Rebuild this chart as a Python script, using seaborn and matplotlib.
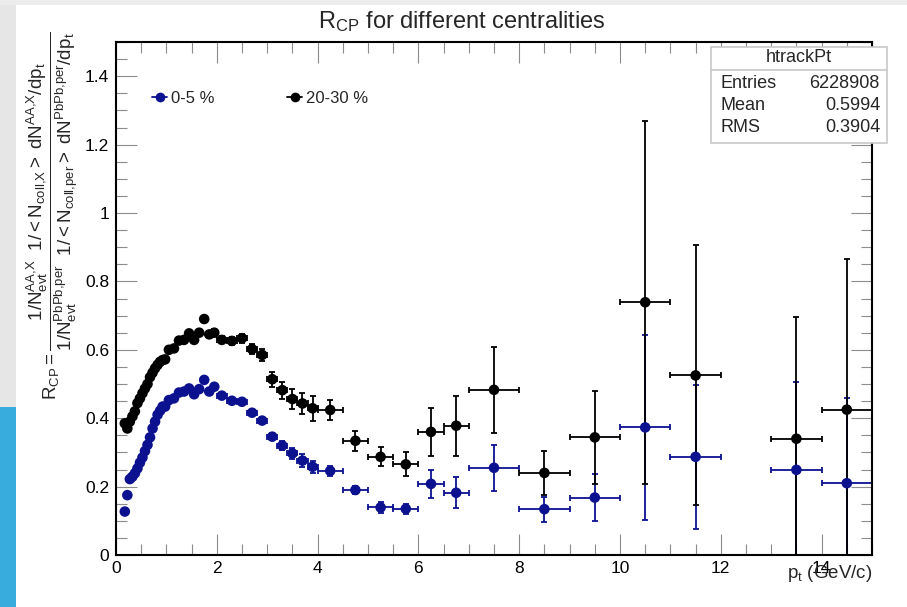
import numpy as np
import pandas as pd
import seaborn as sns
import matplotlib.pyplot as plt
from matplotlib.lines import Line2D
from matplotlib.patches import Rectangle
from matplotlib.ticker import MultipleLocator, FormatStrFormatter, FuncFormatter

# pt bin centres and half widths
pt = [0.175, 0.225, 0.275, 0.325, 0.375, 0.425, 0.475, 0.525, 0.575, 0.625, 0.675, 0.725,
      0.775, 0.825, 0.875, 0.925, 0.975,
      1.05, 1.15, 1.25, 1.35, 1.45, 1.55, 1.65, 1.75, 1.85, 1.95,
      2.1, 2.3, 2.5, 2.7, 2.9, 3.1, 3.3, 3.5, 3.7, 3.9,
      4.25, 4.75, 5.25, 5.75, 6.25, 6.75, 7.5, 8.5, 9.5, 10.5, 11.5, 13.5, 14.5]
pt_err = [0.025, 0.025, 0.025, 0.025, 0.025, 0.025, 0.025, 0.025, 0.025, 0.025, 0.025, 0.025,
          0.025, 0.025, 0.025, 0.025, 0.025,
          0.05, 0.05, 0.05, 0.05, 0.05, 0.05, 0.05, 0.05, 0.05, 0.05,
          0.1, 0.1, 0.1, 0.1, 0.1, 0.1, 0.1, 0.1, 0.1, 0.1,
          0.25, 0.25, 0.25, 0.25, 0.25, 0.25, 0.5, 0.5, 0.5, 0.5, 0.5, 0.5, 0.5]

# 0-5 %
rcp_central = [0.127, 0.175, 0.222, 0.229, 0.239, 0.253, 0.270, 0.285, 0.304, 0.322, 0.344, 0.370,
               0.390, 0.410, 0.422, 0.434, 0.434,
               0.453, 0.458, 0.475, 0.478, 0.487, 0.470, 0.485, 0.512, 0.478, 0.492,
               0.466, 0.451, 0.448, 0.416, 0.393, 0.346, 0.320, 0.297, 0.276, 0.258,
               0.246, 0.190, 0.139, 0.135, 0.208, 0.182, 0.255, 0.134, 0.168, 0.373, 0.287, 0.249, 0.210]
err_central = [0.003, 0.003, 0.003, 0.003, 0.003, 0.003, 0.003, 0.003, 0.003, 0.003, 0.003, 0.003,
               0.003, 0.003, 0.003, 0.003, 0.003,
               0.004, 0.004, 0.004, 0.005, 0.005, 0.005, 0.005, 0.006, 0.006, 0.007,
               0.006, 0.007, 0.007, 0.008, 0.010, 0.011, 0.013, 0.015, 0.020, 0.017,
               0.014, 0.013, 0.016, 0.015, 0.041, 0.045, 0.067, 0.037, 0.070, 0.270, 0.210, 0.258, 0.250]

# 20-30 %
rcp_semi = [0.385, 0.370, 0.390, 0.405, 0.420, 0.444, 0.458, 0.473, 0.487, 0.500, 0.520, 0.533,
            0.546, 0.556, 0.565, 0.570, 0.572,
            0.600, 0.604, 0.627, 0.629, 0.648, 0.629, 0.650, 0.690, 0.645, 0.650,
            0.629, 0.626, 0.634, 0.602, 0.585, 0.514, 0.482, 0.456, 0.443, 0.429,
            0.424, 0.334, 0.287, 0.265, 0.360, 0.378, 0.483, 0.240, 0.344, 0.739, 0.525, 0.340, 0.425]
err_semi = [0.004, 0.004, 0.004, 0.004, 0.004, 0.004, 0.004, 0.004, 0.004, 0.005, 0.005, 0.005,
            0.005, 0.005, 0.005, 0.005, 0.005,
            0.006, 0.006, 0.006, 0.007, 0.007, 0.007, 0.008, 0.008, 0.009, 0.010,
            0.010, 0.011, 0.013, 0.015, 0.018, 0.022, 0.025, 0.030, 0.032, 0.036,
            0.028, 0.029, 0.028, 0.035, 0.071, 0.088, 0.125, 0.065, 0.135, 0.530, 0.380, 0.355, 0.440]

labels = ['0-5 %', '20-30 %']
colors = ['#0c1190', '#000000']

stats_title = 'htrackPt'
stats_names = ['Entries', 'Mean', 'RMS']
stats_values = ['6228908', '0.5994', '0.3904']

sns.set_style('ticks')
plt.rcParams['font.family'] = ['Liberation Sans', 'DejaVu Sans']
plt.rcParams['mathtext.fontset'] = 'custom'
plt.rcParams['mathtext.rm'] = 'Liberation Sans'
plt.rcParams['mathtext.it'] = 'Liberation Sans'
plt.rcParams['mathtext.default'] = 'regular'

df = pd.concat([
    pd.DataFrame({'pt': pt, 'pt_err': pt_err, 'rcp': rcp_central, 'err': err_central, 'cent': labels[0]}),
    pd.DataFrame({'pt': pt, 'pt_err': pt_err, 'rcp': rcp_semi, 'err': err_semi, 'cent': labels[1]}),
])

fig = plt.figure(figsize=(9.07, 6.07), dpi=100)
ax = fig.add_axes([116 / 907, 1 - 555 / 607, 756 / 907, 513 / 607])

for lab, col in zip(labels, colors):
    d = df[df['cent'] == lab]
    ax.errorbar(d['pt'], d['rcp'], yerr=d['err'], xerr=d['pt_err'], fmt='none',
                ecolor=col, elinewidth=1.3, capsize=2.2, capthick=1.3, zorder=2)
sns.scatterplot(data=df, x='pt', y='rcp', hue='cent', palette=colors, s=58,
                edgecolor='none', legend=False, ax=ax, zorder=3)

ax.set_xlim(0, 15)
ax.set_ylim(0, 1.5)
ax.set_xlabel('')
ax.set_ylabel('')
ax.xaxis.set_major_locator(MultipleLocator(2))
ax.xaxis.set_minor_locator(MultipleLocator(0.5))
ax.yaxis.set_major_locator(MultipleLocator(0.2))
ax.yaxis.set_minor_locator(MultipleLocator(0.05))
ax.xaxis.set_major_formatter(FuncFormatter(lambda v, p: '%g' % v))
ax.yaxis.set_major_formatter(FuncFormatter(lambda v, p: '%g' % round(v, 2)))
ax.tick_params(which='both', direction='in', top=True, right=True, color='0.55', width=0.8,
               labelsize=12.5, labelcolor='black')
ax.tick_params(which='major', length=15)
ax.tick_params(which='minor', length=8)
ax.tick_params(axis='x', which='major', pad=4)
ax.tick_params(axis='y', which='major', pad=5)
for s in ax.spines.values():
    s.set_linewidth(1.5)
    s.set_color('black')

leg_handles = [Line2D([], [], color=c, marker='o', markersize=7, markeredgewidth=0, lw=1.3)
               for c in colors]
ax.legend(leg_handles, labels, ncol=2, loc='upper left', bbox_to_anchor=(0.048, 0.905),
          frameon=False, fontsize=12, handlelength=0.9, handletextpad=0.2,
          columnspacing=4.4, borderpad=0, borderaxespad=0)

# title and axis titles
fig.text(462 / 907, 1 - 22 / 607, r'$R_{CP}$ for different centralities',
         ha='center', va='center', fontsize=17)
fig.text(872 / 907, 1 - 573 / 607, r'$p_{t}$ (GeV/c)', ha='right', va='center', fontsize=13.5)
fig.text(52 / 907, 1 - 216 / 607,
         r'$R_{CP} = \dfrac{1/N_{evt}^{AA{,}X}\ \ 1/<N_{coll{,}X}>\ dN^{AA{,}X}/dp_{t}}'
         r'{1/N_{evt}^{PbPb{,}per}\ \ 1/<N_{coll{,}per}>\ dN^{PbPb{,}per}/dp_{t}}$',
         rotation=90, ha='center', va='center', fontsize=13.5)

# stats box
fig.add_artist(Rectangle((711 / 907, 1 - 143 / 607), 176 / 907, 96 / 607,
                         transform=fig.transFigure, facecolor='white', edgecolor='#c8c8c8',
                         lw=1.2, zorder=5))
fig.add_artist(Line2D([711 / 907, 887 / 907], [1 - 70 / 607, 1 - 70 / 607],
                      transform=fig.transFigure, color='#c8c8c8', lw=1.2, zorder=6))
fig.text(799 / 907, 1 - 58 / 607, stats_title, ha='center', va='center', fontsize=13, zorder=7)
for i, (n, v) in enumerate(zip(stats_names, stats_values)):
    yy = 1 - (83 + 22 * i) / 607
    fig.text(720 / 907, yy, n, ha='left', va='center', fontsize=13, zorder=7)
    fig.text(880 / 907, yy, v, ha='right', va='center', fontsize=13, zorder=7)

# screenshot frame at the left edge
fig.add_artist(Rectangle((0, 0), 16 / 907, 200 / 607, transform=fig.transFigure,
                         facecolor='#38acdc', edgecolor='none', zorder=0))
fig.add_artist(Rectangle((0, 200 / 607), 16 / 907, 407 / 607, transform=fig.transFigure,
                         facecolor='#e6e6e6', edgecolor='none', zorder=0))
fig.add_artist(Rectangle((0, 1 - 5 / 607), 1, 5 / 607, transform=fig.transFigure,
                         facecolor='#ececec', edgecolor='none', zorder=0))

fig.savefig('out.png', dpi=100)
